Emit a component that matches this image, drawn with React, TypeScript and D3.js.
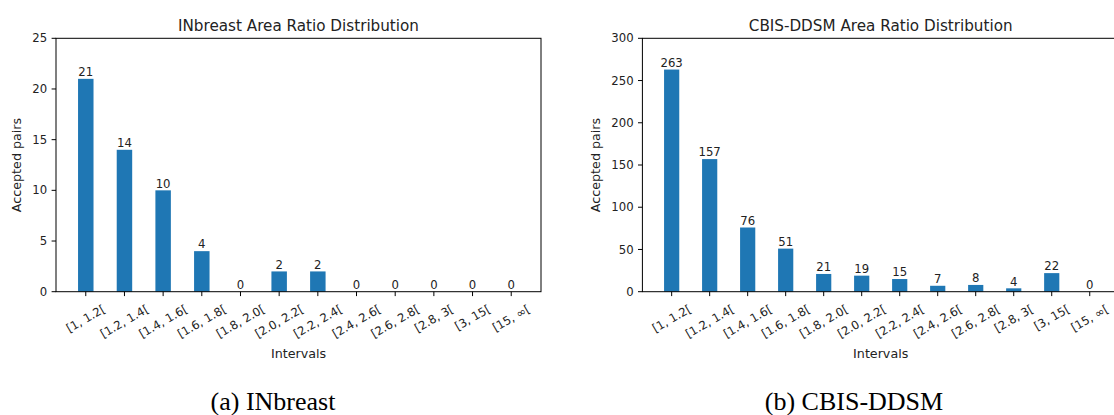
import React from 'react';
import * as d3 from 'd3';

const intervals = [
  '[1, 1.2[', '[1.2, 1.4[', '[1.4, 1.6[', '[1.6, 1.8[', '[1.8, 2.0[', '[2.0, 2.2[',
  '[2.2, 2.4[', '[2.4, 2.6[', '[2.6, 2.8[', '[2.8, 3[', '[3, 15[', '[15, ∞[',
];
const inbreastCounts = [21, 14, 10, 4, 0, 2, 2, 0, 0, 0, 0, 0];
const cbisCounts = [263, 157, 76, 51, 21, 19, 15, 7, 8, 4, 22, 0];
const inbreastTicks = [0, 5, 10, 15, 20, 25];
const cbisTicks = [0, 50, 100, 150, 200, 250, 300];
const inbreastTitle = 'INbreast Area Ratio Distribution';
const cbisTitle = 'CBIS-DDSM Area Ratio Distribution';
const inbreastCaption = '(a) INbreast';
const cbisCaption = '(b) CBIS-DDSM';

const FONT = '"DejaVu Sans", sans-serif';
const TICK_FS = 11.7;
const LABEL_FS = 12.7;
const TITLE_FS = 15.2;
const BAR_COLOR = '#1f77b4';
const TEXT = '#222';

let ctx: CanvasRenderingContext2D | null = null;
function measure(text: string, fs: number): number {
  if (!ctx) ctx = document.createElement('canvas').getContext('2d');
  if (!ctx) return text.length * fs * 0.6;
  ctx.font = `${fs}px "DejaVu Sans"`;
  return ctx.measureText(text).width;
}

type PanelProps = {
  left: number; right: number; top: number; bottom: number;
  title: string; counts: number[]; yMax: number; yTicks: number[];
  caption: string; captionX: number; ylabelX: number;
};

function Panel(p: PanelProps) {
  const x = d3.scaleLinear().domain([-0.77, 11.77]).range([p.left, p.right]);
  const y = d3.scaleLinear().domain([0, p.yMax]).range([p.bottom, p.top]);
  const bw = x(0.4) - x(0);
  const tickLen = 4.4;
  const labelTop = p.bottom + 10.3;
  const h = TICK_FS * 1.164;
  const s30 = Math.sin(Math.PI / 6), c30 = Math.cos(Math.PI / 6);
  const cx = (p.left + p.right) / 2;
  const cy = (p.top + p.bottom) / 2;
  return (
    <g>
      <text x={cx} y={30.5} textAnchor="middle" fontFamily={FONT} fontSize={TITLE_FS} fill={TEXT}>{p.title}</text>
      {p.counts.map((v, i) => (
        <rect key={'b' + i} x={x(i) - bw / 2} y={y(v)} width={bw} height={y(0) - y(v)} fill={BAR_COLOR} />
      ))}
      {p.counts.map((v, i) => (
        <text key={'v' + i} x={x(i)} y={y(v) - 2.8} textAnchor="middle" fontFamily={FONT} fontSize={TICK_FS} fill={TEXT}>{v}</text>
      ))}
      <rect x={p.left} y={p.top} width={p.right - p.left} height={p.bottom - p.top} fill="none" stroke="#000" strokeWidth={1} />
      {p.yTicks.map((t) => (
        <g key={'y' + t}>
          <line x1={p.left - tickLen} x2={p.left} y1={y(t)} y2={y(t)} stroke="#000" strokeWidth={1} />
          <text x={p.left - tickLen - 4.4} y={y(t) + TICK_FS * 0.346} textAnchor="end" fontFamily={FONT} fontSize={TICK_FS} fill={TEXT}>{t}</text>
        </g>
      ))}
      {intervals.map((lab, i) => {
        const w = measure(lab, TICK_FS);
        const H = w * s30 + h * c30;
        const lx = x(i);
        const ly = labelTop + H / 2;
        return (
          <g key={'x' + i}>
            <line x1={lx} x2={lx} y1={p.bottom} y2={p.bottom + tickLen} stroke="#000" strokeWidth={1} />
            <text x={lx} y={ly + TICK_FS * 0.346} textAnchor="middle" fontFamily={FONT} fontSize={TICK_FS} fill={TEXT}
              transform={`rotate(-30, ${lx}, ${ly})`}>{lab}</text>
          </g>
        );
      })}
      <text x={cx} y={358} textAnchor="middle" fontFamily={FONT} fontSize={LABEL_FS} fill={TEXT}>Intervals</text>
      <text x={p.ylabelX} y={cy} textAnchor="middle" fontFamily={FONT} fontSize={LABEL_FS} fill={TEXT}
        transform={`rotate(-90, ${p.ylabelX}, ${cy})`}>Accepted pairs</text>
      <text x={p.captionX} y={410} textAnchor="middle" fontFamily='"Liberation Serif", "Times New Roman", serif' fontSize={26} fill="#000">{p.caption}</text>
    </g>
  );
}

export default function App() {
  return (
    <svg width={1114} height={415} style={{ position: 'absolute', left: 0, top: 0, background: '#fff' }}>
      <rect x={0} y={0} width={1114} height={415} fill="#fff" />
      <Panel left={56} right={541} top={38.3} bottom={291.7} title={inbreastTitle} counts={inbreastCounts}
        yMax={25} yTicks={inbreastTicks} caption={inbreastCaption} captionX={273} ylabelX={20.5} />
      <Panel left={642.4} right={1119} top={38.3} bottom={291.7} title={cbisTitle} counts={cbisCounts}
        yMax={300} yTicks={cbisTicks} caption={cbisCaption} captionX={854} ylabelX={599.5} />
    </svg>
  );
}
